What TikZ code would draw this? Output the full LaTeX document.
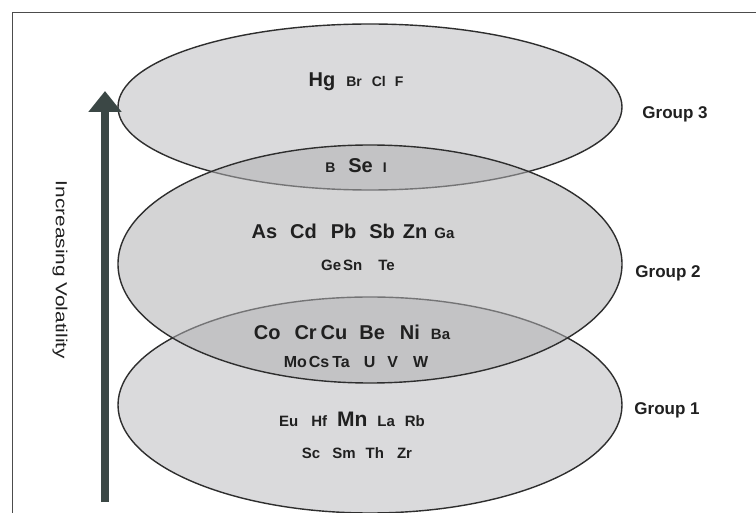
\documentclass[tikz,border=0pt]{standalone}
\usepackage{fontspec}
\setmainfont{Liberation Sans}
\usepackage{tikz}
\usetikzlibrary{arrows.meta, positioning}
\definecolor{lobe}{HTML}{DADADC}
\definecolor{lobemid}{HTML}{B0B0B3}
\definecolor{rim}{HTML}{2E2E2E}
\definecolor{shaft}{HTML}{3B4745}
\definecolor{ink}{HTML}{202020}
\newcommand{\elbig}[1]{{\fontsize{20}{24}\selectfont\bfseries #1}}
\newcommand{\elmn}[1]{{\fontsize{21}{25}\selectfont\bfseries #1}}
\newcommand{\elsml}[1]{{\fontsize{15}{18}\selectfont\bfseries #1}}
\newcommand{\eltny}[1]{{\fontsize{14}{17}\selectfont\bfseries #1}}
\newcommand{\elmed}[1]{{\fontsize{16}{19}\selectfont\bfseries #1}}

\begin{document}
\begin{tikzpicture}[x=1pt,y=-1pt,
  lobe3/.style={draw=rim,line width=1.4pt,fill=lobe},
  lobe2/.style={draw=rim,line width=1.4pt,fill=lobemid,fill opacity=0.54},
  elem/.style={anchor=base,inner sep=0pt,text=ink},
  grp/.style={anchor=base,inner sep=0pt,text=ink,font=\fontsize{17}{20}\selectfont\bfseries}]
  \useasboundingbox (0,0) rectangle (756,513);
  \fill[white] (0,0) rectangle (756,513);
  \draw[line width=0.9pt,draw=black!70] (12,513) -- (12,12) -- (756,12);
%---------------------------------------------------------------------------
  \draw[lobe3] (370,405) ellipse [x radius=252pt, y radius=108pt];
  \draw[lobe3] (370,107) ellipse [x radius=252pt, y radius=83pt];
  \draw[lobe2] (370,264) ellipse [x radius=252pt, y radius=119pt];
%---------------------------------------------------------------------------
  \coordinate (foot) at (105,502);
  \coordinate (tip) at (105,91);
  \draw[draw=shaft,line width=8pt,-{Triangle[width=32pt,length=21pt]}] (foot) -- (tip);
  \node[elem,anchor=center,rotate=-90,xscale=1.3,font=\fontsize{16}{19}\selectfont] (vol) at (60,270) {Increasing Volatility};
%---------------------------------------------------------------------------
  \node[elem] (hg) at (356,87) {\elbig{Hg}\hspace{11pt}\eltny{Br}\hspace{10pt}\eltny{Cl}\hspace{9pt}\eltny{F}};
  \node[elem] (se) at (356,173) {\eltny{B}\hspace{13pt}\elbig{Se}\hspace{10pt}\eltny{I}};
  \node[elem] (as) at (353,239) {\elbig{As}\hspace{13pt}\elbig{Cd}\hspace{14pt}\elbig{Pb}\hspace{13pt}\elbig{Sb}\hspace{8pt}\elbig{Zn}\hspace{7pt}\elsml{Ga}};
  \node[elem] (ge) at (358,271) {\elsml{Ge}\hspace{2pt}\elsml{Sn}\hspace{16pt}\elsml{Te}};
  \node[elem] (co) at (352,340) {\elbig{Co}\hspace{14pt}\elbig{Cr}\hspace{4pt}\elbig{Cu}\hspace{12pt}\elbig{Be}\hspace{15pt}\elbig{Ni}\hspace{11pt}\elsml{Ba}};
  \node[elem] (mo) at (356,368) {\elmed{Mo}\hspace{2pt}\elmed{Cs}\hspace{3pt}\elmed{Ta}\hspace{14pt}\elmed{U}\hspace{12pt}\elmed{V}\hspace{15pt}\elmed{W}};
  \node[elem] (mn) at (352,427) {\elsml{Eu}\hspace{13pt}\elsml{Hf}\hspace{10pt}\elmn{Mn}\hspace{10pt}\elsml{La}\hspace{10pt}\elsml{Rb}};
  \node[elem] (sc) at (357,458) {\elsml{Sc}\hspace{12pt}\elsml{Sm}\hspace{10pt}\elsml{Th}\hspace{13pt}\elsml{Zr}};
%---------------------------------------------------------------------------
  \node[grp] (g3) at (675,119) {Group 3};
  \node[grp] (g2) at (668,278) {Group 2};
  \node[grp] (g1) at (667,414) {Group 1};
\end{tikzpicture}
\end{document}
